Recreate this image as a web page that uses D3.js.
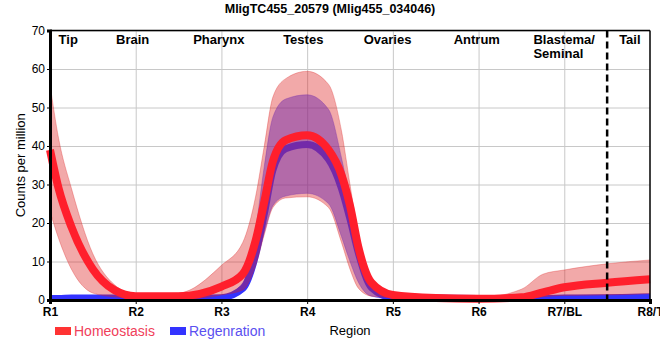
<!DOCTYPE html>
<html>
<head>
<meta charset="utf-8">
<script src="https://cdn.jsdelivr.net/npm/d3@7"></script>
<style>
  body { margin: 0; background: #fff; }
  svg text { font-family: "Liberation Sans", Arial, sans-serif; }
</style>
</head>
<body>
<svg id="chart" width="660" height="360"></svg>
<script>
const positions = [1, 1.1, 1.25, 1.5, 1.75, 2, 2.5, 3, 3.25, 3.4, 3.5, 3.6, 3.75, 4, 4.25, 4.4, 4.5, 4.6, 4.75, 5, 5.5, 6, 6.5, 6.75, 7, 7.5, 8];

const homeoMean = [39, 29, 19, 8, 2.6, 1.0, 1.0, 3.5, 6.8, 15.5, 25.5, 36, 41.5, 42.8, 39, 32.5, 24.5, 13.5, 4.5, 1.3, 0.5, 0.3, 0.7, 2.0, 3.3, 4.5, 5.4];
const homeoLow  = [23, 16, 8, 1.8, 0.8, 0.5, 0.2, 1.3, 2.6, 9, 17, 24, 26.5, 26.8, 24, 15, 8, 3, 1, 0.6, 0, 0, 0.3, 0.8, 1.2, 1.3, 1.6];
const homeoHigh = [56, 42, 29, 12, 4, 1.5, 1.8, 9, 15, 27, 40, 52.7, 57.5, 59.4, 56, 44, 30, 16.5, 5, 2, 0.8, 0.6, 2.8, 6.7, 7.8, 9.4, 10.4];

const regenMean = [0.4, 0.4, 0.5, 0.5, 0.5, 0.5, 0.4, 0.6, 3, 11.8, 22.3, 33.7, 39.3, 40.4, 36.5, 29, 21, 12, 3.2, 0.6, 0.5, 0.4, 0.4, 0.4, 0.5, 0.6, 0.8];
const regenLow  = [0, 0, 0, 0.1, 0.1, 0.1, 0.1, 0.2, 2, 9.5, 17.5, 24.5, 27, 27.7, 25, 16.5, 10, 4.5, 1, 0.3, 0.2, 0.1, 0.1, 0.1, 0.2, 0.2, 0.3];
const regenHigh = [0.9, 0.9, 1.0, 1.0, 1.0, 1.0, 0.8, 1.0, 4.5, 18.5, 34.7, 47.5, 52.2, 53.3, 49.5, 37, 26, 14.5, 4, 0.9, 0.8, 0.8, 0.8, 0.9, 1.0, 1.3, 1.6];

const tickLabels = ["R1", "R2", "R3", "R4", "R5", "R6", "R7/BL", "R8/T"];
const yTicks = [0, 10, 20, 30, 40, 50, 60, 70];

// anatomical labels along the top, anchored at region units
const regionNames = [["Tip"], ["Brain"], ["Pharynx"], ["Testes"], ["Ovaries"], ["Antrum"], ["Blastema/", "Seminal"], ["Tail"]];
const regionAt = [1.1, 1.77, 2.67, 3.72, 4.66, 5.71, 6.64, 7.64];
const tailBoundary = 7.5;

const svg = d3.select("#chart");
const m = { left: 50, right: 10, top: 30.5, bottom: 60 };
const W = 660, H = 360;

const x = d3.scaleLinear().domain([1, 8]).range([m.left, W - m.right]);
const y = d3.scaleLinear().domain([0, 70]).range([H - m.bottom, m.top]);

// title
svg.append("text")
    .attr("x", 330).attr("y", 13)
    .attr("text-anchor", "middle")
    .attr("font-size", "12.5px").attr("font-weight", "bold")
    .text("MligTC455_20579 (Mlig455_034046)");

// grid
svg.append("g")
    .attr("transform", `translate(${m.left},0)`)
    .call(d3.axisLeft(y).tickValues(yTicks.slice(1)).tickSize(-(W - m.left - m.right)).tickFormat(""))
    .call(g => g.select(".domain").remove())
    .call(g => g.selectAll("line").attr("stroke", "#c8c8c8"));

svg.append("g")
    .attr("transform", `translate(0,${y(0)})`)
    .call(d3.axisBottom(x).tickValues(d3.range(2, 8)).tickSize(-(y(0) - y(70))).tickFormat(""))
    .call(g => g.select(".domain").remove())
    .call(g => g.selectAll("line").attr("stroke", "#c8c8c8"));

const rows = (lo, hi, mid) => positions.map((p, i) => ({ p, lo: lo[i], hi: hi[i], mid: mid[i] }));
const regen = rows(regenLow, regenHigh, regenMean);
const homeo = rows(homeoLow, homeoHigh, homeoMean);

const area = d3.area().x(d => x(d.p)).y0(d => y(d.lo)).y1(d => y(d.hi)).curve(d3.curveMonotoneX);
const line = d3.line().x(d => x(d.p)).y(d => y(d.mid)).curve(d3.curveMonotoneX);

// regeneration first, homeostasis drawn over it
svg.append("path").datum(regen)
    .attr("d", area)
    .attr("fill", "rgba(51,51,255,0.5)")
    .attr("stroke", "rgba(51,51,255,0.35)").attr("stroke-width", 1);
svg.append("path").datum(regen)
    .attr("d", line)
    .attr("fill", "none").attr("stroke", "#3333ff").attr("stroke-width", 7);

svg.append("path").datum(homeo)
    .attr("d", area)
    .attr("fill", "rgba(220,30,30,0.38)")
    .attr("stroke", "rgba(220,30,30,0.3)").attr("stroke-width", 1);
svg.append("path").datum(homeo)
    .attr("d", line)
    .attr("fill", "none").attr("stroke", "#ff1f2c").attr("stroke-width", 8);

// tail boundary
svg.append("line")
    .attr("x1", x(tailBoundary)).attr("x2", x(tailBoundary))
    .attr("y1", y(70)).attr("y2", y(0))
    .attr("stroke", "#000").attr("stroke-width", 2.5)
    .attr("stroke-dasharray", "7,4");

// frame
svg.append("line")
    .attr("x1", m.left).attr("x2", W - m.right)
    .attr("y1", y(70)).attr("y2", y(70))
    .attr("stroke", "#000").attr("stroke-width", 1.5);
svg.append("line")
    .attr("x1", W - m.right).attr("x2", W - m.right)
    .attr("y1", y(70)).attr("y2", y(0))
    .attr("stroke", "#000").attr("stroke-width", 1.5);

// y axis
const yAxis = svg.append("g")
    .attr("transform", `translate(${m.left},0)`)
    .call(d3.axisLeft(y).tickValues(yTicks).tickSize(3).tickPadding(2));
yAxis.select(".domain").attr("stroke", "#000").attr("stroke-width", 3);
yAxis.selectAll("text").attr("font-size", "12px").attr("fill", "#000")
    .attr("font-family", "'Liberation Sans', Arial, sans-serif");

// x axis
const xAxis = svg.append("g")
    .attr("transform", `translate(0,${y(0)})`)
    .call(d3.axisBottom(x).tickValues(d3.range(1, 9)).tickSize(4).tickPadding(3)
        .tickFormat((d, i) => tickLabels[i]));
xAxis.select(".domain").attr("stroke", "#000").attr("stroke-width", 3);
xAxis.selectAll("text").attr("font-size", "12px").attr("font-weight", "bold").attr("fill", "#000")
    .attr("font-family", "'Liberation Sans', Arial, sans-serif");

// region names
regionNames.forEach((lines, i) => {
    const t = svg.append("text")
        .attr("x", x(regionAt[i])).attr("y", 44)
        .attr("font-size", "13px").attr("font-weight", "bold");
    lines.forEach((s, j) => t.append("tspan")
        .attr("x", x(regionAt[i])).attr("dy", j ? 14 : 0).text(s));
});

// axis titles
svg.append("text")
    .attr("transform", `translate(25,${(y(0) + y(70)) / 2}) rotate(-90)`)
    .attr("text-anchor", "middle").attr("font-size", "13px")
    .text("Counts per million");
svg.append("text")
    .attr("x", (x(1) + x(8)) / 2).attr("y", 335)
    .attr("text-anchor", "middle").attr("font-size", "13px")
    .text("Region");

// legend
const legend = [
    { name: "Homeostasis", swatch: "#ff3333", text: "#f0405a", at: 55 },
    { name: "Regenration", swatch: "#3333ff", text: "#5a50f0", at: 170 }
];
const lg = svg.append("g").selectAll("g").data(legend).join("g")
    .attr("transform", d => `translate(${d.at},327)`);
lg.append("rect").attr("width", 16).attr("height", 8).attr("fill", d => d.swatch);
lg.append("text").attr("x", 19).attr("y", 8.5)
    .attr("font-size", "14px").attr("fill", d => d.text)
    .text(d => d.name);
</script>
</body>
</html>
